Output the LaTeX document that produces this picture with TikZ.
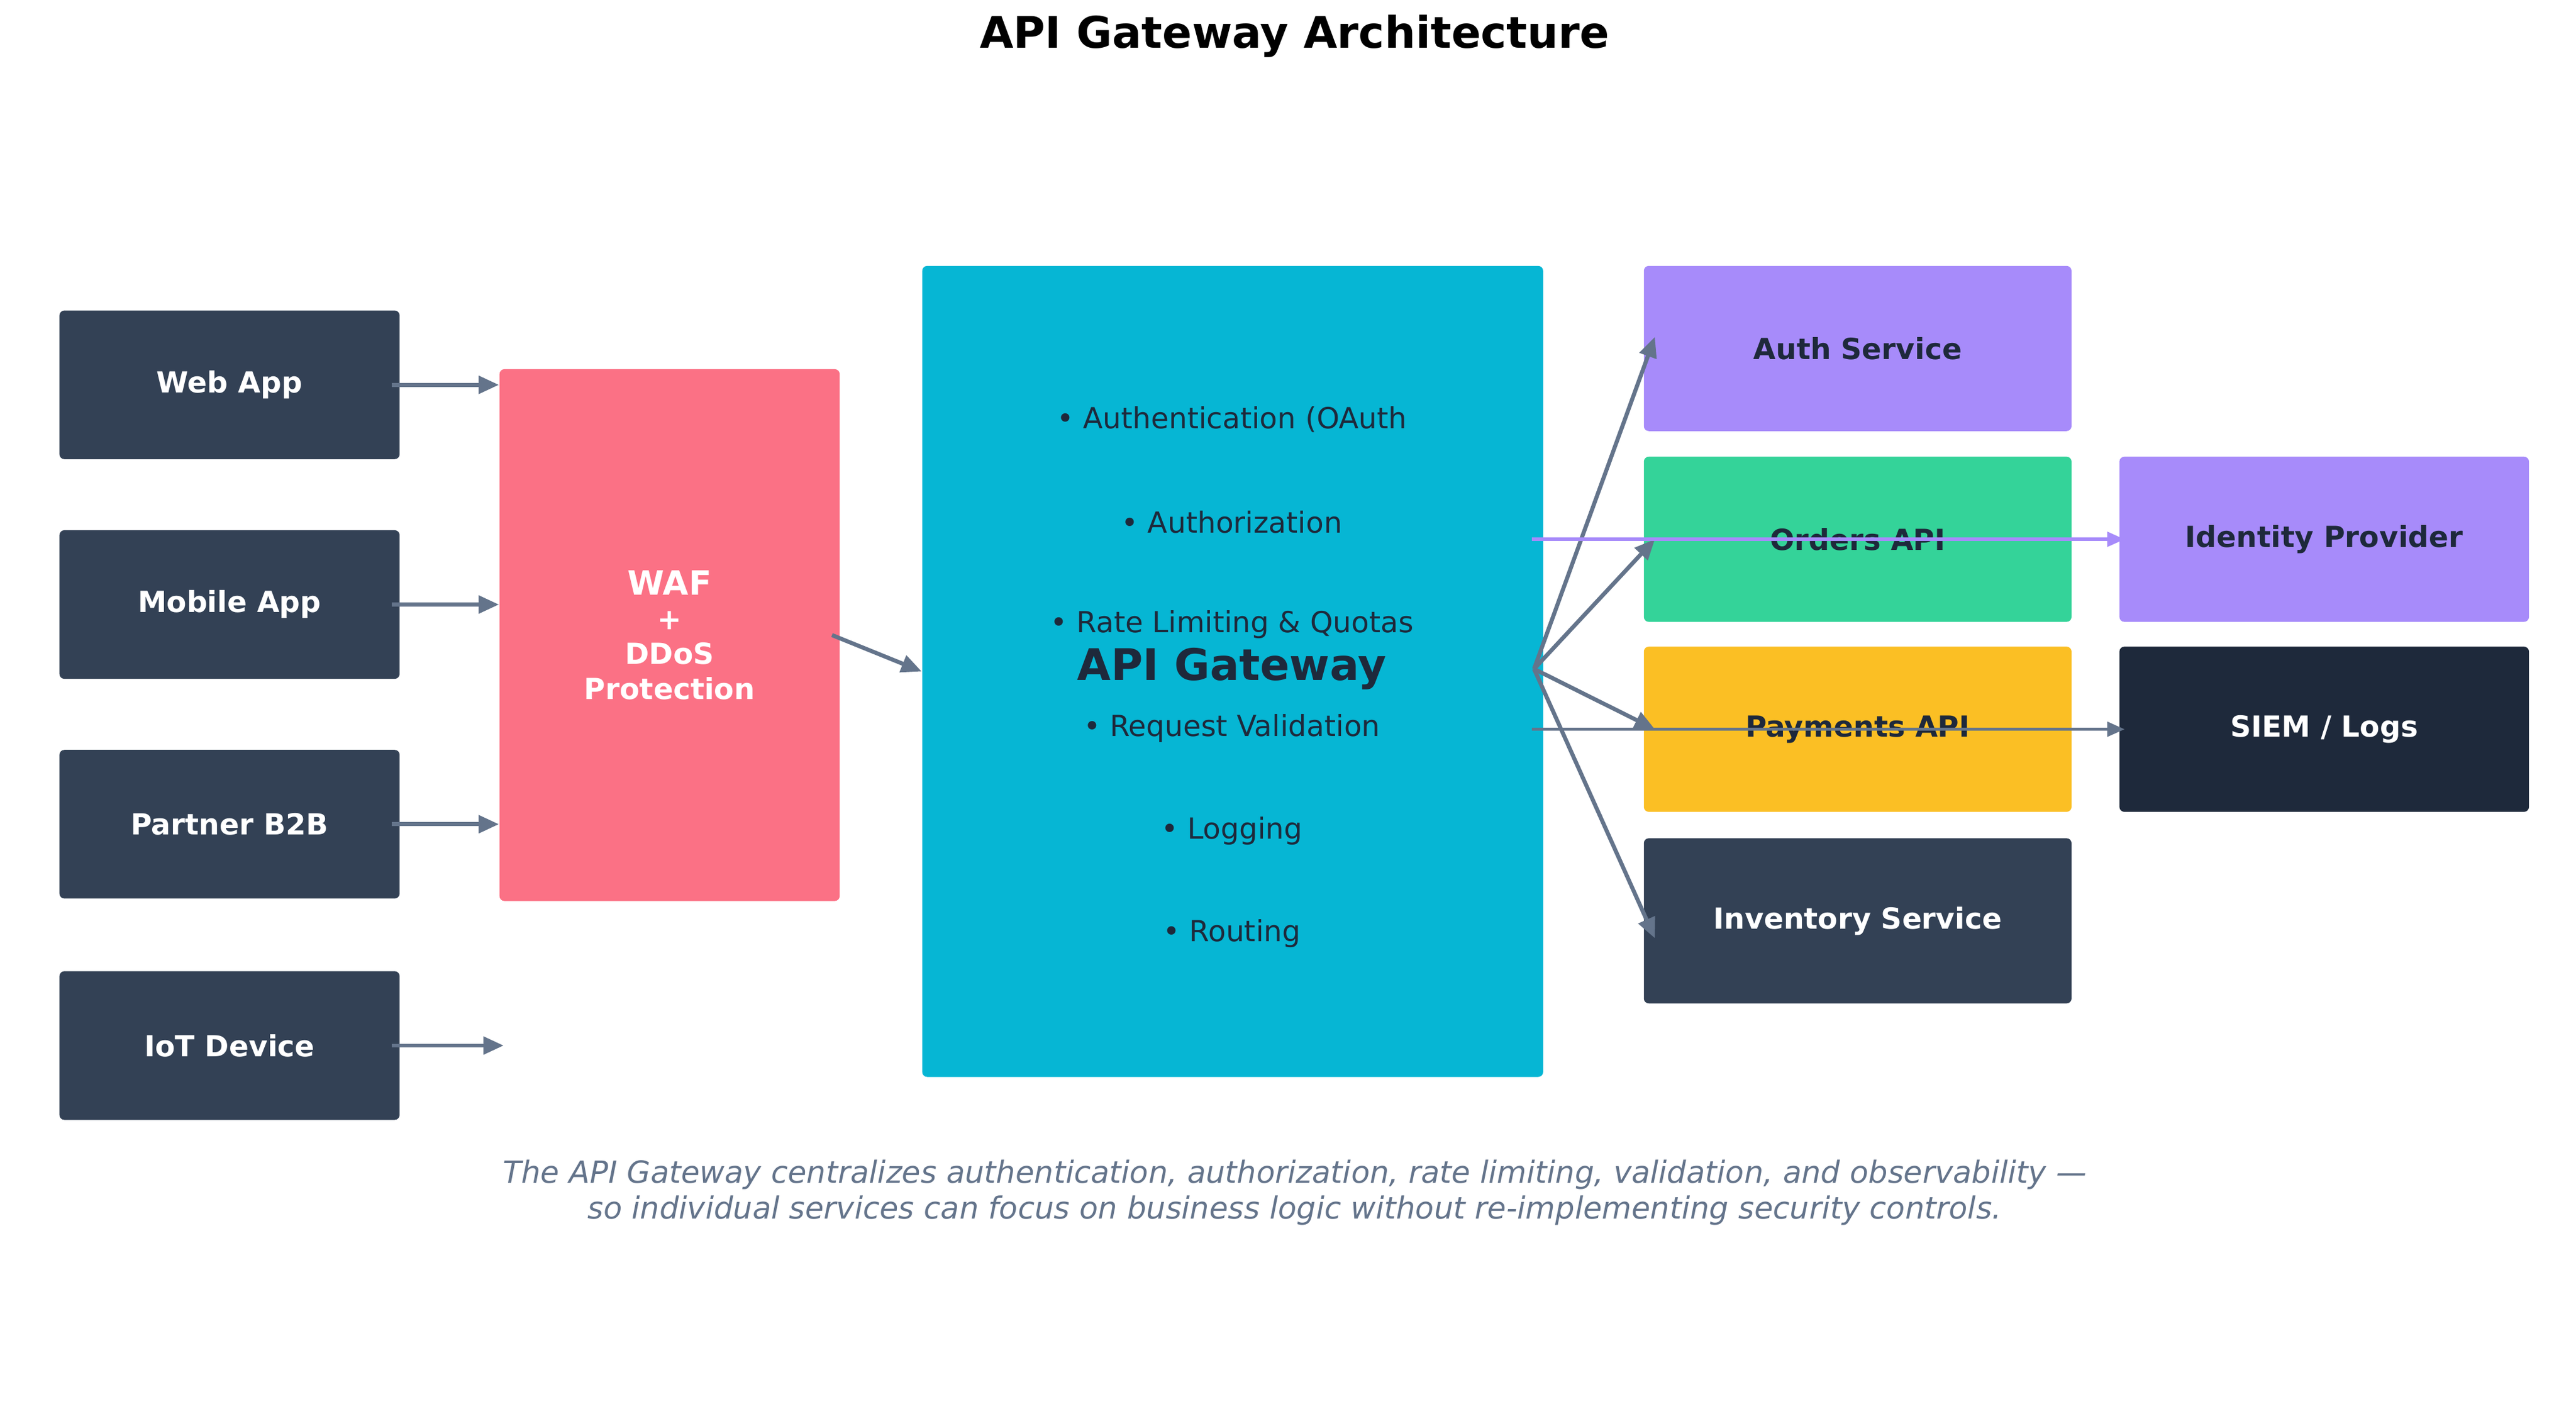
\documentclass[tikz,border=0pt]{standalone}
\usepackage{fontspec}
\setmainfont{DejaVu Sans}
\usetikzlibrary{arrows.meta,positioning}
\definecolor{slate}{HTML}{334155}
\definecolor{darkslate}{HTML}{1E293B}
\definecolor{edgegray}{HTML}{64748B}
\definecolor{wafred}{HTML}{FB7185}
\definecolor{gwcyan}{HTML}{06B6D4}
\definecolor{violet}{HTML}{A78BFA}
\definecolor{emerald}{HTML}{34D399}
\definecolor{amber}{HTML}{FBBF24}
\begin{document}
\begin{tikzpicture}[x=0.02cm,y=-0.02cm,
  box/.style n args={4}{fill=#1,text=#2,minimum width=#3*0.02cm,minimum height=#4*0.02cm,rounded corners=3*0.02cm,inner sep=0pt,font=\bfseries\fontsize{10}{12}\selectfont,align=center},
  flow/.style={draw=edgegray,line width=1.4pt,-{Triangle[length=7pt,width=6pt]}},
  side/.style={line width=1.1pt,-{Triangle[length=6pt,width=5pt]}}]
\useasboundingbox (0,0) rectangle (1560,857);
\node[font=\bfseries\fontsize{15}{18}\selectfont] (title) at (784,22) {API Gateway Architecture};
% clients
\foreach \y/\n/\t in {233/web/Web App,366/mobile/Mobile App,499/partner/Partner B2B,633/iot/IoT Device} {
  \node[box={slate}{white}{206}{90}] (\n) at (139,\y) {\t};
}
\node[box={wafred}{white}{206}{322}] (waf) at (405.5,384.5) {\fontsize{11.5}{12}\selectfont WAF\\+\\DDoS\\Protection};
\node[box={gwcyan}{black}{376}{491}] (gw) at (746.5,406.5) {};
\node[font=\bfseries\fontsize{15}{18}\selectfont,text=darkslate] (gwname) at (746,405) {API Gateway};
\foreach \y/\t in {254/Authentication (OAuth / JWT),316/Authorization / Scopes,378/Rate Limiting \& Quotas,441/Request Validation,503/Logging / Tracing,565/Routing / Versioning} {
  \node[font=\fontsize{10}{12}\selectfont,text=darkslate] at (746,\y) {• \t};
}
% services
\node[box={violet}{darkslate}{259}{100}] (auth) at (1125,211) {Auth Service};
\node[box={emerald}{darkslate}{259}{100}] (orders) at (1125,326.5) {Orders API};
\node[box={amber}{darkslate}{259}{100}] (payments) at (1125,441.5) {Payments API};
\node[box={slate}{white}{259}{100}] (inventory) at (1125,557.5) {Inventory Service};
\node[box={violet}{darkslate}{248}{100}] (idp) at (1407.5,326.5) {Identity Provider};
\node[box={darkslate}{white}{248}{100}] (siem) at (1407.5,441.5) {SIEM / Logs};
% connectors
\foreach \n in {web,mobile,partner} {
  \draw[flow] (\n.east) ++(-5,0) -- (waf.west |- \n.east);
}
\coordinate (iotend) at (305,633);
\draw[flow] (iot.east) ++(-5,0) -- (iotend);
\draw[flow] (waf.east) ++(-5,0) -- (gw.west);
\coordinate (fan) at (929,405);
\draw[flow] (fan) -- ([xshift=4,yshift=4]auth.west);
\draw[flow] (fan) -- ([xshift=4]orders.west);
\draw[flow] (fan) -- ([xshift=4]payments.west);
\draw[flow] (fan) -- ([xshift=4,yshift=-6]inventory.west);
\draw[side,draw=violet] ([xshift=-4]gw.east |- orders) -- ([xshift=2]idp.west);
\draw[side,draw=edgegray] ([xshift=-4]gw.east |- payments) -- ([xshift=2]siem.west);
\node[font=\itshape\fontsize{10.5}{12.5}\selectfont,text=edgegray,align=center] (caption) at (784,722) {The API Gateway centralizes authentication, authorization, rate limiting, validation, and observability —\\so individual services can focus on business logic without re-implementing security controls.};
\end{tikzpicture}
\end{document}
